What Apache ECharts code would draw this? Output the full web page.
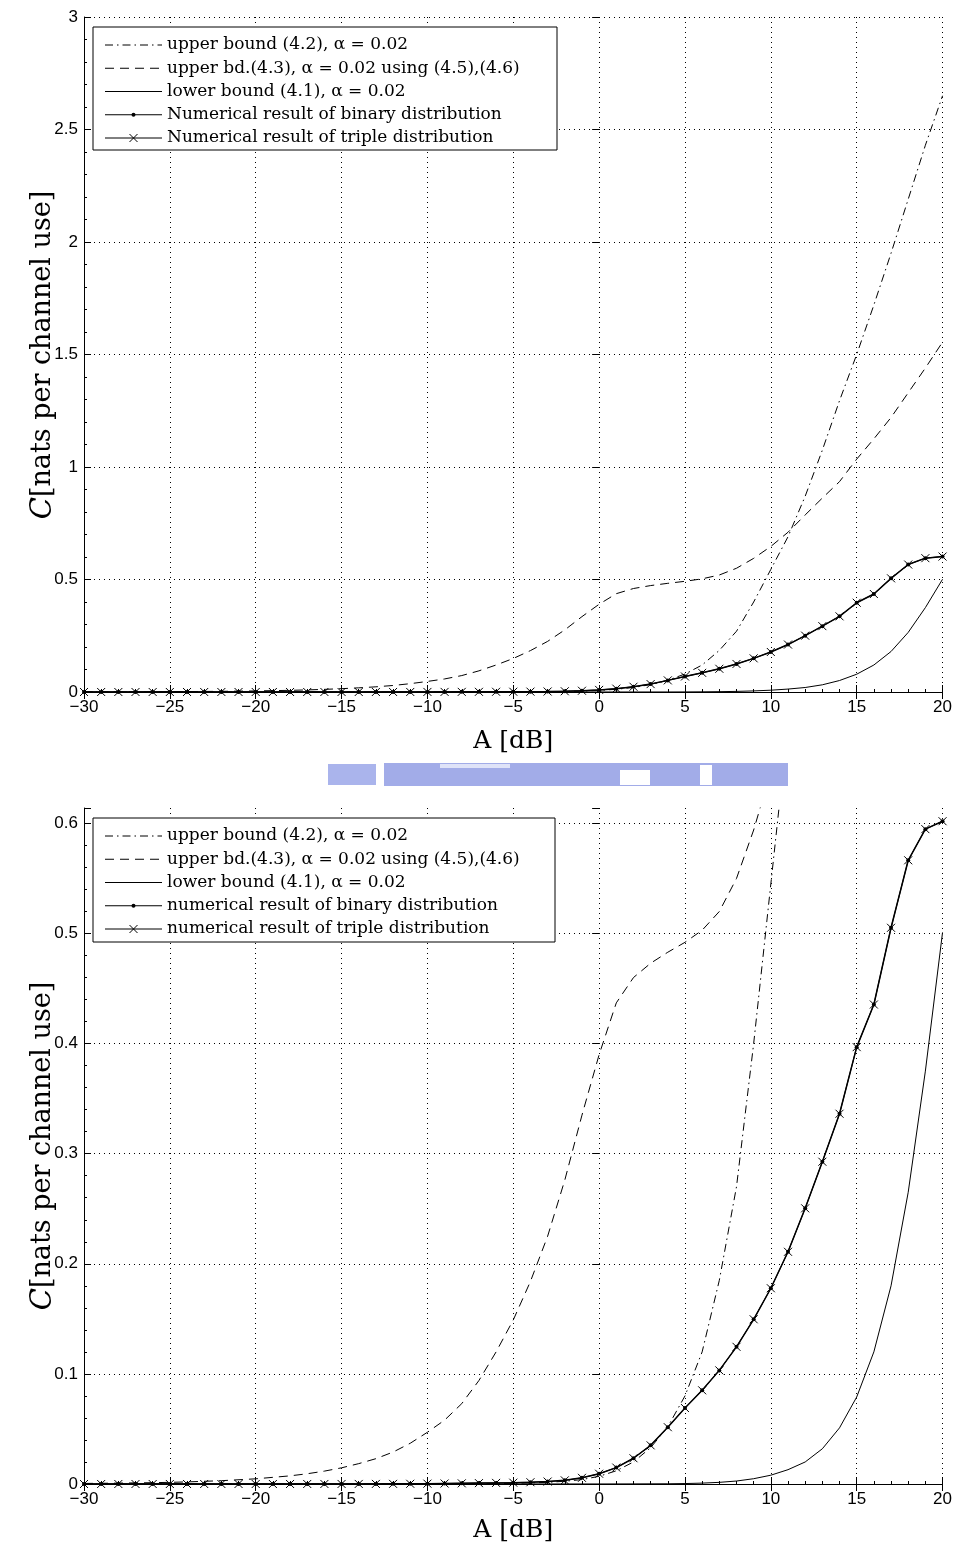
<!DOCTYPE html>
<html>
<head>
<meta charset="utf-8">
<script src="https://cdn.jsdelivr.net/npm/echarts@6/dist/echarts.min.js"></script>
<style>html,body{margin:0;padding:0;background:#fff;}#c{width:955px;height:1552px;}</style>
</head>
<body>
<div id="c"></div>
<script>
// ---- data ----
const xTicksDb = [-30, -25, -20, -15, -10, -5, 0, 5, 10, 15, 20];
const legendTop = ['upper bound (4.2), \u03b1 = 0.02', 'upper bd.(4.3), \u03b1 = 0.02 using (4.5),(4.6)', 'lower bound (4.1), \u03b1 = 0.02', 'Numerical result of binary distribution', 'Numerical result of triple distribution'];
const legendBottom = ['upper bound (4.2), \u03b1 = 0.02', 'upper bd.(4.3), \u03b1 = 0.02 using (4.5),(4.6)', 'lower bound (4.1), \u03b1 = 0.02', 'numerical result of binary distribution', 'numerical result of triple distribution'];

// numerical results (binary and triple coincide), A = -30..20 dB
const numX = [-30,-29,-28,-27,-26,-25,-24,-23,-22,-21,-20,-19,-18,-17,-16,-15,-14,-13,-12,-11,-10,-9,-8,-7,-6,-5,-4,-3,-2,-1,0,1,2,3,4,5,6,7,8,9,10,11,12,13,14,15,16,17,18,19,20];
const binaryY = [0.00001,0.00001,0.00001,0.00001,0.00001,0.00001,0.00001,0.00001,0.00001,0.00001,0.00001,0.00001,0.00002,0.00002,0.00003,0.00004,0.00006,0.00009,0.00014,0.0002,0.0003,0.00045,0.0006,0.0008,0.001,0.0012,0.0016,0.0022,0.0033,0.0056,0.0093,0.0149,0.0234,0.0351,0.0516,0.069,0.0851,0.1032,0.1246,0.1496,0.1778,0.2109,0.2504,0.2927,0.3363,0.3968,0.4355,0.5052,0.5665,0.5948,0.602];
const tripleY = [0.00001,0.00001,0.00001,0.00001,0.00001,0.00001,0.00001,0.00001,0.00001,0.00001,0.00001,0.00001,0.00002,0.00002,0.00003,0.00004,0.00006,0.00009,0.00014,0.0002,0.0003,0.00045,0.0006,0.0008,0.001,0.0012,0.0016,0.0022,0.0033,0.0056,0.0093,0.0149,0.0234,0.0351,0.0516,0.069,0.0851,0.1032,0.1246,0.1496,0.1778,0.2109,0.2504,0.2927,0.3363,0.3968,0.4355,0.5052,0.5665,0.5948,0.602];

// upper bound (4.2), dash-dot
const ub42X = [-30,-10,-5,-3,-2,-1,0,1,2,3,4,5,6,7,8,9,10,11,12,13,14,15,16,17,18,19,20];
const ub42Y = [0,0.0001,0.0006,0.0015,0.0025,0.004,0.007,0.012,0.02,0.033,0.052,0.08,0.12,0.185,0.27,0.40,0.545,0.69,0.87,1.075,1.295,1.50,1.72,1.95,2.19,2.43,2.65];

// upper bd. (4.3), dashed
const ub43X = [-30,-28,-26,-25,-24,-22,-20,-18,-17,-16,-15,-14,-13,-12,-11,-10,-9,-8,-7,-6,-5,-4,-3,-2,-1,0,1,2,3,4,5,6,7,8,9,10,11,12,13,14,15,16,17,18,19,20];
const ub43Y = [0.0005,0.0008,0.0012,0.0015,0.0019,0.003,0.0047,0.0074,0.0093,0.0117,0.0147,0.0185,0.023,0.029,0.037,0.047,0.058,0.073,0.094,0.12,0.149,0.184,0.225,0.276,0.335,0.39,0.437,0.46,0.473,0.483,0.492,0.503,0.52,0.55,0.594,0.647,0.71,0.787,0.862,0.935,1.035,1.125,1.22,1.33,1.44,1.555];

// lower bound (4.1), solid
const lbX = [-30,0,2,4,5,6,7,8,9,10,11,12,13,14,15,16,17,18,19,20];
const lbY = [0,0.00005,0.0001,0.0002,0.0004,0.0008,0.0015,0.0027,0.0048,0.008,0.013,0.02,0.032,0.051,0.079,0.12,0.18,0.265,0.375,0.501];

// ---- chart ----
const pairs = (xs, ys) => xs.map((x, i) => [x, ys[i]]);
const crossPath = 'path://M0,0L10,10M10,0L0,10';
const DASHDOT = [8, 4, 1.5, 4];
const DASHED = [9, 6];
const chart = echarts.init(document.getElementById('c'), null, {renderer: 'canvas'});

function xAxes(gridIndex, name, gap) {
  return [{
    type: 'value', gridIndex, min: -30, max: 20, interval: 5, position: 'bottom',
    name, nameLocation: 'middle', nameGap: gap,
    nameTextStyle: {fontFamily: 'DejaVu Serif', fontSize: 25, color: '#000'},
    axisLine: {show: true, onZero: false, lineStyle: {color: '#000', width: 1}},
    axisTick: {show: true, inside: true, length: 7, lineStyle: {color: '#000'}},
    minorTick: {show: true, splitNumber: 5, length: 3, lineStyle: {color: '#000'}},
    axisLabel: {color: '#000', fontFamily: 'Liberation Sans', fontSize: 17, margin: 7,
      formatter: v => v < 0 ? '\u2212' + (-v) : String(v)},
    splitLine: {show: true, lineStyle: {color: '#000', type: [1, 4], width: 1}}
  }, {
    type: 'value', gridIndex, min: -30, max: 20, interval: 5, position: 'top',
    axisLine: {show: false},
    axisTick: {show: true, inside: true, length: 7, lineStyle: {color: '#000'}},
    axisLabel: {show: false}, splitLine: {show: false}
  }];
}
function yAxes(gridIndex, max, interval, minorSplit, hideMax) {
  return [{
    type: 'value', gridIndex, min: 0, max, interval, position: 'left',
    axisLine: {show: true, onZero: false, lineStyle: {color: '#000', width: 1}},
    axisTick: {show: true, inside: true, length: 7, lineStyle: {color: '#000'}},
    minorTick: {show: true, splitNumber: minorSplit, length: 3, lineStyle: {color: '#000'}},
    axisLabel: {color: '#000', fontFamily: 'Liberation Sans', fontSize: 17, margin: 6, showMaxLabel: !hideMax},
    splitLine: {show: true, showMaxLine: !hideMax, lineStyle: {color: '#000', type: [1, 4], width: 1}}
  }, {
    type: 'value', gridIndex, min: 0, max, interval, position: 'right',
    axisLine: {show: false},
    axisTick: {show: true, inside: true, length: 7, lineStyle: {color: '#000'}},
    axisLabel: {show: false}, splitLine: {show: false}
  }];
}

function seriesFor(names, xi, yi) {
  const base = {type: 'line', xAxisIndex: xi, yAxisIndex: yi, animation: false, silent: true, smooth: false, clip: true};
  return [
    Object.assign({}, base, {name: names[0], data: pairs(ub42X, ub42Y), symbol: 'none',
      lineStyle: {color: '#000', width: 1, type: DASHDOT}, itemStyle: {color: '#000'}, z: 3}),
    Object.assign({}, base, {name: names[1], data: pairs(ub43X, ub43Y), symbol: 'none',
      lineStyle: {color: '#000', width: 1, type: DASHED}, itemStyle: {color: '#000'}, z: 3}),
    Object.assign({}, base, {name: names[2], data: pairs(lbX, lbY), symbol: 'none',
      lineStyle: {color: '#000', width: 1, type: 'solid'}, itemStyle: {color: '#000'}, z: 3}),
    Object.assign({}, base, {name: names[3], data: pairs(numX, binaryY), symbol: 'circle', symbolSize: 4, showAllSymbol: true,
      lineStyle: {color: '#000', width: 1.5}, itemStyle: {color: '#000', borderColor: '#000', borderWidth: 0}, z: 4}),
    Object.assign({}, base, {name: names[4], data: pairs(numX, tripleY), symbol: crossPath, symbolSize: 8, showAllSymbol: true,
      lineStyle: {color: '#000', width: 1}, itemStyle: {color: '#000', borderColor: '#000', borderWidth: 1}, z: 5})
  ];
}

// legend box drawn as graphic elements (MATLAB-style samples)
function legendBox(y0, h, w, names) {
  const els = [{type: 'rect', z: 100, shape: {x: 93, y: y0, width: w, height: h},
    style: {fill: '#fff', stroke: '#000', lineWidth: 1}}];
  const styles = [DASHDOT, DASHED, null, null, null];
  for (let i = 0; i < 5; i++) {
    const cy = y0 + 18 + i * 23.25;
    els.push({type: 'line', z: 101, shape: {x1: 105, y1: cy, x2: 162, y2: cy},
      style: {stroke: '#000', lineWidth: 1, lineDash: styles[i] || null}});
    if (i === 3) els.push({type: 'circle', z: 102, shape: {cx: 133.5, cy, r: 2}, style: {fill: '#000'}});
    if (i === 4) {
      els.push({type: 'line', z: 102, shape: {x1: 129.5, y1: cy - 4, x2: 137.5, y2: cy + 4}, style: {stroke: '#000', lineWidth: 1}});
      els.push({type: 'line', z: 102, shape: {x1: 137.5, y1: cy - 4, x2: 129.5, y2: cy + 4}, style: {stroke: '#000', lineWidth: 1}});
    }
    els.push({type: 'text', z: 101, x: 167, y: cy,
      style: {text: names[i], font: '17px "DejaVu Serif"', fill: '#000', verticalAlign: 'middle', align: 'left'}});
  }
  return els;
}

function yTitle(cy) {
  return {type: 'text', x: 43, y: cy, rotation: Math.PI / 2, z: 50,
    style: {text: '{c|C}[nats per channel use]', align: 'center', verticalAlign: 'middle',
      font: '27px "DejaVu Serif"', fill: '#000',
      rich: {c: {fontFamily: 'DejaVu Serif', fontStyle: 'italic', fontSize: 29, fill: '#000'}}}};
}

const option = {
  animation: false,
  backgroundColor: '#fff',
  grid: [
    {left: 84, top: 17, width: 859, height: 675, containLabel: false},
    {left: 84, top: 808, width: 859, height: 676, containLabel: false}
  ],
  xAxis: [].concat(xAxes(0, 'A [dB]', 37), xAxes(1, 'A [dB]', 34)),
  yAxis: [].concat(yAxes(0, 3, 0.5, 5, false), yAxes(1, 0.614, 0.1, 5, true)),
  series: [].concat(seriesFor(legendTop, 0, 0), seriesFor(legendBottom, 2, 2)),
  graphic: [].concat(
    legendBox(27, 123, 464, legendTop),
    legendBox(818, 124, 462, legendBottom),
    [yTitle(355), yTitle(1146)],
    [
      {type: 'rect', shape: {x: 328, y: 764, width: 48, height: 21}, style: {fill: '#aab4ec'}, silent: true},
      {type: 'rect', shape: {x: 384, y: 763, width: 404, height: 23}, style: {fill: '#a2ace8'}, silent: true},
      {type: 'rect', shape: {x: 440, y: 764, width: 70, height: 4}, style: {fill: '#dfe3f8'}, silent: true},
      {type: 'rect', shape: {x: 620, y: 770, width: 30, height: 15}, style: {fill: '#ffffff'}, silent: true},
      {type: 'rect', shape: {x: 700, y: 765, width: 12, height: 20}, style: {fill: '#ffffff'}, silent: true}
    ])
};
chart.setOption(option);
</script>
</body>
</html>
